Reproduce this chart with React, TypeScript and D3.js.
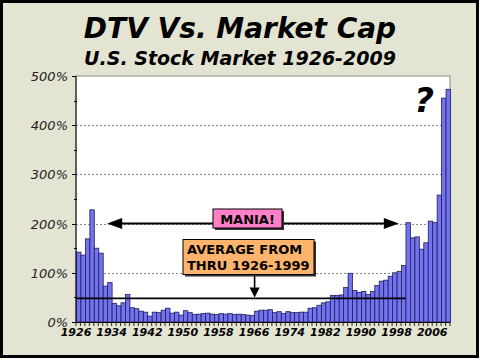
import React from "react";
import * as d3 from "d3";

const years: number[] = [
  1926, 1927, 1928, 1929, 1930, 1931, 1932, 1933, 1934, 1935, 1936, 1937, 1938, 1939,
  1940, 1941, 1942, 1943, 1944, 1945, 1946, 1947, 1948, 1949, 1950, 1951, 1952, 1953,
  1954, 1955, 1956, 1957, 1958, 1959, 1960, 1961, 1962, 1963, 1964, 1965, 1966, 1967,
  1968, 1969, 1970, 1971, 1972, 1973, 1974, 1975, 1976, 1977, 1978, 1979, 1980, 1981,
  1982, 1983, 1984, 1985, 1986, 1987, 1988, 1989, 1990, 1991, 1992, 1993, 1994, 1995,
  1996, 1997, 1998, 1999, 2000, 2001, 2002, 2003, 2004, 2005, 2006, 2007, 2008, 2009,
];

const dtvPct: number[] = [
  142, 136, 169, 228, 150, 140, 73, 80, 38, 33, 39, 56, 29, 27,
  22, 20, 12, 20, 19, 24, 28, 18, 20, 14, 23, 19, 15, 16,
  17, 18, 16, 15, 17, 16, 17, 15, 16, 15, 14, 13, 22, 24,
  24, 25, 19, 21, 17, 21, 19, 19, 20, 20, 28, 29, 34, 39,
  41, 54, 54, 55, 70, 99, 64, 60, 62, 56, 62, 74, 83, 85,
  93, 100, 103, 115, 202, 171, 173, 148, 161, 205, 202, 258, 455, 473,
];

const yTicks: number[] = [0, 100, 200, 300, 400, 500];
const yMinorTicks: number[] = [50, 150, 250, 350, 450];
const xLabelYears: number[] = [1926, 1934, 1942, 1950, 1958, 1966, 1974, 1982, 1990, 1998, 2006];

const AVERAGE_1926_1999 = 48;
const AVERAGE_END_YEAR = 1999;
const MANIA_LEVEL = 200;
const MANIA_FROM = 1933;
const MANIA_TO = 1998.5;

const title = "DTV Vs. Market Cap";
const subtitle = "U.S. Stock Market 1926-2009";
const maniaLabel = "MANIA!";
const avgLabel = ["AVERAGE FROM", "THRU 1926-1999"];

export default function App() {
  const W = 480;
  const H = 360;
  const left = 76, right = 450, top = 76, bottom = 322;

  const x = d3.scaleBand<number>().domain(years).range([left, right]).paddingInner(0).paddingOuter(0);
  const y = d3.scaleLinear().domain([0, 500]).range([bottom, top]);
  const bw = x.bandwidth();

  const font = "'DejaVu Sans', Verdana, sans-serif";
  const yAvg = y(AVERAGE_1926_1999);
  const avgEndX = (x(AVERAGE_END_YEAR) as number) + bw;
  const yMania = y(MANIA_LEVEL);
  const maniaX1 = (x(MANIA_FROM) as number);
  const maniaX2 = (x(Math.floor(MANIA_TO)) as number) + bw * (MANIA_TO % 1);

  const arrowDownX = (x(1966) as number) + 0.5;

  return (
    <svg width={W} height={H} style={{ position: "fixed", left: 0, top: 0 }} xmlns="http://www.w3.org/2000/svg">
      <rect x={0} y={0} width={W} height={H} fill="#ffffff" />
      <rect x={1.5} y={1.5} width={476} height={355} fill="#e4e4d2" stroke="#000" strokeWidth={3} />

      <text x={240} y={38} textAnchor="middle" fontFamily={font} fontWeight="bold" fontStyle="italic" fontSize={28} fill="#000">{title}</text>
      <text x={240} y={65} textAnchor="middle" fontFamily={font} fontWeight="bold" fontStyle="italic" fontSize={19} fill="#000">{subtitle}</text>

      <rect x={left} y={top} width={right - left} height={bottom - top} fill="#ffffff" stroke="#8a8a8a" strokeWidth={1} />

      {yTicks.filter(t => t > 0 && t < 500).map(t => (
        <line key={"g" + t} x1={left} x2={right} y1={Math.round(y(t)) + 0.5} y2={Math.round(y(t)) + 0.5} stroke="#888" strokeDasharray="2,2" strokeWidth={1} />
      ))}

      {years.map((yr, i) => {
        const x0 = x(yr) as number;
        const y0 = y(dtvPct[i]);
        return (
          <rect key={yr} x={x0 + 0.5} y={y0} width={bw} height={bottom - y0} fill="#7373f2" stroke="#1e1e55" strokeWidth={0.8} />
        );
      })}

      <line x1={left} x2={avgEndX} y1={yAvg} y2={yAvg} stroke="#000" strokeWidth={1.6} />

      {/* axes */}
      <line x1={left} x2={left} y1={top} y2={bottom} stroke="#000" strokeWidth={1} />
      <line x1={left} x2={right} y1={bottom + 0.5} y2={bottom + 0.5} stroke="#000" strokeWidth={1} />
      {yTicks.map(t => (
        <line key={"yt" + t} x1={left - 4} x2={left} y1={Math.round(y(t)) + 0.5} y2={Math.round(y(t)) + 0.5} stroke="#000" />
      ))}
      {yMinorTicks.map(t => (
        <line key={"ym" + t} x1={left - 2} x2={left + 1} y1={Math.round(y(t)) + 0.5} y2={Math.round(y(t)) + 0.5} stroke="#000" />
      ))}
      {yTicks.map(t => (
        <text key={"yl" + t} x={68} y={y(t) + 5} textAnchor="end" fontFamily={font} fontStyle="italic" fontSize={13} fill="#222">{t + "%"}</text>
      ))}
      {years.concat([2010]).map((yr, i) => {
        const xx = left + i * bw;
        return <line key={"xt" + yr} x1={xx} x2={xx} y1={bottom} y2={bottom + 4} stroke="#000" strokeWidth={0.8} />;
      })}
      {xLabelYears.map(yr => (
        <text key={"xl" + yr} x={x(yr) as number} y={336} textAnchor="middle" fontFamily={font} fontWeight="bold" fontStyle="italic" fontSize={11} fill="#000">{yr}</text>
      ))}

      {/* MANIA arrow */}
      <line x1={maniaX1 + 10} x2={maniaX2 - 10} y1={yMania} y2={yMania} stroke="#000" strokeWidth={2} />
      <path d={`M${maniaX1},${yMania} L${maniaX1 + 15},${yMania - 5.5} L${maniaX1 + 15},${yMania + 5.5} Z`} fill="#000" />
      <path d={`M${maniaX2},${yMania} L${maniaX2 - 15},${yMania - 5.5} L${maniaX2 - 15},${yMania + 5.5} Z`} fill="#000" />
      <rect x={215} y={211} width={69} height={19} fill="#333" />
      <rect x={213} y={209} width={69} height={19} fill="#ff80c8" stroke="#000" strokeWidth={1} />
      <text x={247.5} y={223.5} textAnchor="middle" fontFamily={font} fontWeight="bold" fontSize={13} fill="#000">{maniaLabel}</text>

      {/* Average box */}
      <line x1={arrowDownX} x2={arrowDownX} y1={275} y2={289} stroke="#000" strokeWidth={1.6} />
      <path d={`M${arrowDownX},${yAvg - 1} L${arrowDownX - 5},${yAvg - 11} L${arrowDownX + 5},${yAvg - 11} Z`} fill="#000" />
      <rect x={185} y={241.5} width={131} height={35} fill="#333" />
      <rect x={183} y={239.5} width={131} height={35} fill="#ffb46e" stroke="#000" strokeWidth={1} />
      <text x={187} y={254} fontFamily={font} fontWeight="bold" fontSize={13} fill="#000">{avgLabel[0]}</text>
      <text x={187} y={270} fontFamily={font} fontWeight="bold" fontSize={13} fill="#000">{avgLabel[1]}</text>

      <text x={424} y={112} textAnchor="middle" fontFamily={font} fontWeight="bold" fontStyle="italic" fontSize={34} fill="#000">?</text>
    </svg>
  );
}
